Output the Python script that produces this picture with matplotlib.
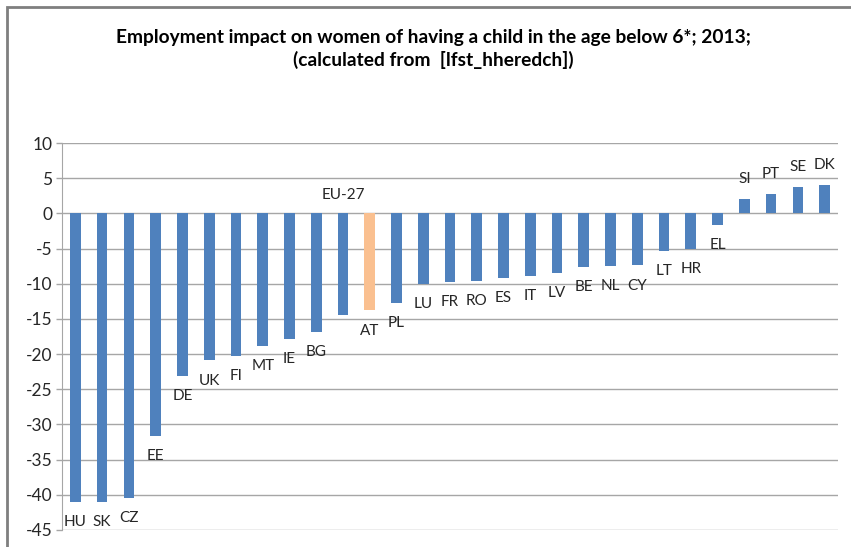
#!/usr/bin/env python3

import matplotlib
matplotlib.use("Agg")
import matplotlib.pyplot as plt
from matplotlib.patches import Rectangle

OUT = "out.png"

countries = [
    "HU", "SK", "CZ", "EE", "DE", "UK", "FI", "MT", "IE", "BG",
    "EU-27", "AT", "PL", "LU", "FR", "RO", "ES", "IT", "LV", "BE",
    "NL", "CY", "LT", "HR", "EL", "SI", "PT", "SE", "DK",
]
impact = [
    -41.0, -41.0, -40.4, -31.6, -23.1, -20.9, -20.3, -18.9, -17.9, -16.9,
    -14.5, -13.8, -12.7, -10.0, -9.8, -9.6, -9.2, -8.9, -8.5, -7.6,
    -7.5, -7.4, -5.4, -5.1, -1.6, 2.1, 2.8, 3.8, 4.1,
]
highlight = "AT"
yticks = list(range(-45, 11, 5))

BLUE = "#4F81BD"
ORANGE = "#FAC090"
GRID = "#A6A6A6"
TEXT = "#262626"

plt.rcParams["font.family"] = ["Lato", "DejaVu Sans"]

fig = plt.figure(figsize=(8.51, 5.47), dpi=100)
ax = fig.add_axes([62 / 851, 17 / 547, 776 / 851, 387 / 547])

x = list(range(len(countries)))
colors = [ORANGE if c == highlight else BLUE for c in countries]
ax.bar(x, impact, width=0.4, color=colors, zorder=3)

for xi, c, v in zip(x, countries, impact):
    if c == "EU-27":
        # label sits above the zero line in the original
        ax.annotate(c, (xi, 0), xytext=(0, 13), textcoords="offset points",
                    ha="center", va="center", fontsize=11, color=TEXT)
    elif v < 0:
        ax.annotate(c, (xi, v), xytext=(0, -14.5), textcoords="offset points",
                    ha="center", va="center", fontsize=11, color=TEXT)
    else:
        ax.annotate(c, (xi, v), xytext=(0, 14), textcoords="offset points",
                    ha="center", va="center", fontsize=11, color=TEXT)

ax.set_ylim(-45, 10)
ax.set_xlim(-0.5, len(countries) - 0.5)
ax.set_yticks(yticks)
ax.set_yticklabels([str(t) for t in yticks], fontsize=12.5, color=TEXT)
ax.set_xticks([])
ax.yaxis.grid(True, color=GRID, linewidth=1, zorder=0)
ax.tick_params(axis="y", length=4, color=GRID, width=1, pad=3)

for side in ["top", "right", "bottom"]:
    ax.spines[side].set_visible(False)
ax.spines["left"].set_color(GRID)

fig.text(433 / 851, 1 - 37 / 547,
         "Employment impact on women of having a child in the age below 6*; 2013;",
         ha="center", va="center", fontsize=13.8, fontweight="bold", color="black")
fig.text(433 / 851, 1 - 60 / 547,
         "(calculated from  [lfst_hheredch])",
         ha="center", va="center", fontsize=13.8, fontweight="bold", color="black")

# outer chart frame, cut off at right and bottom like the screenshot
fig.patches.append(Rectangle((7 / 851, -0.1), 1.0, 1 - 7 / 547 + 0.1,
                             transform=fig.transFigure, fill=False,
                             edgecolor="#7F7F7F", linewidth=2))

fig.savefig(OUT, dpi=100)
